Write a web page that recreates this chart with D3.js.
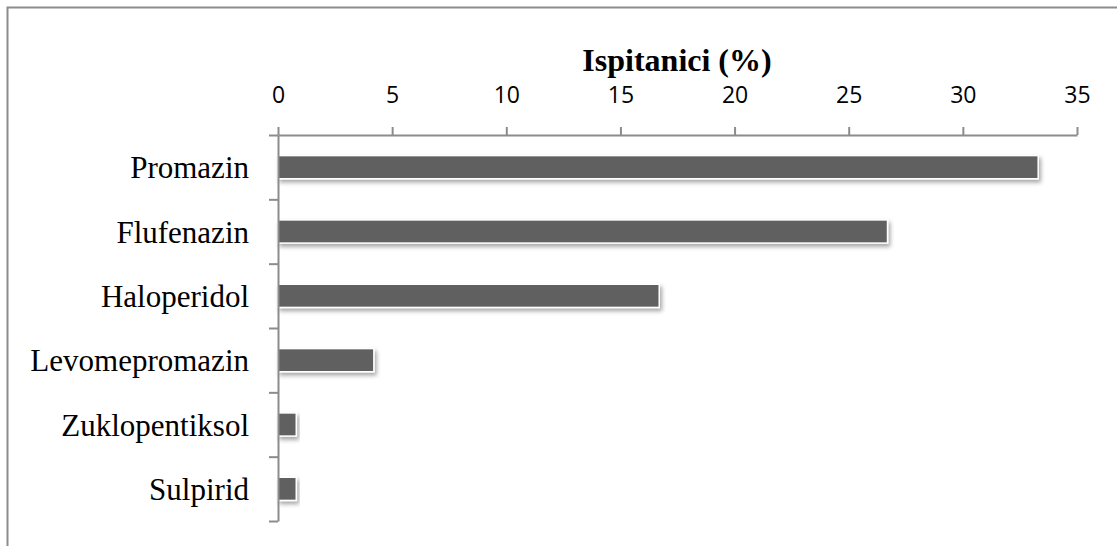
<!DOCTYPE html>
<html>
<head>
<meta charset="utf-8">
<script src="https://cdn.jsdelivr.net/npm/d3@7"></script>
<style>
  body { margin: 0; background: #fff; }
</style>
</head>
<body>
<script>
const categories = ["Promazin", "Flufenazin", "Haloperidol", "Levomepromazin", "Zuklopentiksol", "Sulpirid"];
const values = [33.3, 26.7, 16.7, 4.2, 0.8, 0.8];
const xTicks = [0, 5, 10, 15, 20, 25, 30, 35];
const title = "Ispitanici (%)";

const width = 1117, height = 546;
const plotLeft = 278, plotRight = 1077, plotTop = 135, plotBottom = 521;

const svg = d3.select("body")
  .append("svg")
  .attr("width", width)
  .attr("height", height);

// chart frame (only top and left edges fall inside the picture)
svg.append("rect")
  .attr("x", 7.5)
  .attr("y", 7.5)
  .attr("width", 1200)
  .attr("height", 600)
  .attr("fill", "none")
  .attr("stroke", "#8c8c8c")
  .attr("stroke-width", 2);

const defs = svg.append("defs");
const f = defs.append("filter")
  .attr("id", "shadow")
  .attr("x", "-10%").attr("y", "-30%")
  .attr("width", "130%").attr("height", "190%");
f.append("feDropShadow")
  .attr("dx", 2).attr("dy", 3)
  .attr("stdDeviation", 2.2)
  .attr("flood-color", "#000")
  .attr("flood-opacity", 0.35);

const xScale = d3.scaleLinear()
  .domain([0, 35])
  .range([plotLeft, plotRight]);

const yScale = d3.scaleBand()
  .domain(categories)
  .range([plotTop, plotBottom])
  .paddingInner(0.64)
  .paddingOuter(0.32);

// boundaries between categories
const yEdge = d3.scaleLinear()
  .domain([0, categories.length])
  .range([plotTop, plotBottom]);

// bars
svg.append("g")
  .selectAll("rect")
  .data(categories)
  .enter()
  .append("rect")
  .attr("x", xScale(0))
  .attr("y", (d) => yScale(d))
  .attr("width", (d, i) => xScale(values[i]) - xScale(0))
  .attr("height", yScale.bandwidth())
  .attr("fill", "#606060")
  .attr("stroke", "#fff")
  .attr("stroke-width", 1.5)
  .attr("filter", "url(#shadow)");

// x axis on top
const xAxis = svg.append("g")
  .attr("transform", "translate(0," + plotTop + ")")
  .call(d3.axisTop(xScale).tickValues(xTicks).tickSize(8).tickSizeOuter(0).tickPadding(24));
xAxis.select(".domain").attr("stroke", "#8c8c8c").attr("stroke-width", 2);
xAxis.selectAll(".tick line").attr("stroke", "#8c8c8c").attr("stroke-width", 2);
xAxis.selectAll(".tick text")
  .attr("font-family", "'Open Sans', sans-serif")
  .attr("font-size", 23)
  .attr("fill", "#000");

// y axis
const yAxis = svg.append("g")
  .attr("transform", "translate(" + plotLeft + ",0)")
  .call(d3.axisLeft(yEdge).tickValues(d3.range(categories.length + 1)).tickFormat("").tickSize(9).tickSizeOuter(0));
yAxis.select(".domain").attr("stroke", "#8c8c8c").attr("stroke-width", 2);
yAxis.selectAll(".tick line").attr("stroke", "#8c8c8c").attr("stroke-width", 2);

// category labels
svg.append("g")
  .selectAll("text")
  .data(categories)
  .enter()
  .append("text")
  .attr("x", 249)
  .attr("y", (d) => yScale(d) + yScale.bandwidth() / 2)
  .attr("dy", "0.36em")
  .attr("text-anchor", "end")
  .attr("font-family", "'Liberation Serif', 'Times New Roman', serif")
  .attr("font-size", 31)
  .attr("fill", "#000")
  .text((d) => d);

// title
svg.append("text")
  .attr("x", 677)
  .attr("y", 71)
  .attr("text-anchor", "middle")
  .attr("font-family", "'Liberation Serif', 'Times New Roman', serif")
  .attr("font-weight", "bold")
  .attr("font-size", 32)
  .attr("fill", "#000")
  .text(title);
</script>
</body>
</html>
